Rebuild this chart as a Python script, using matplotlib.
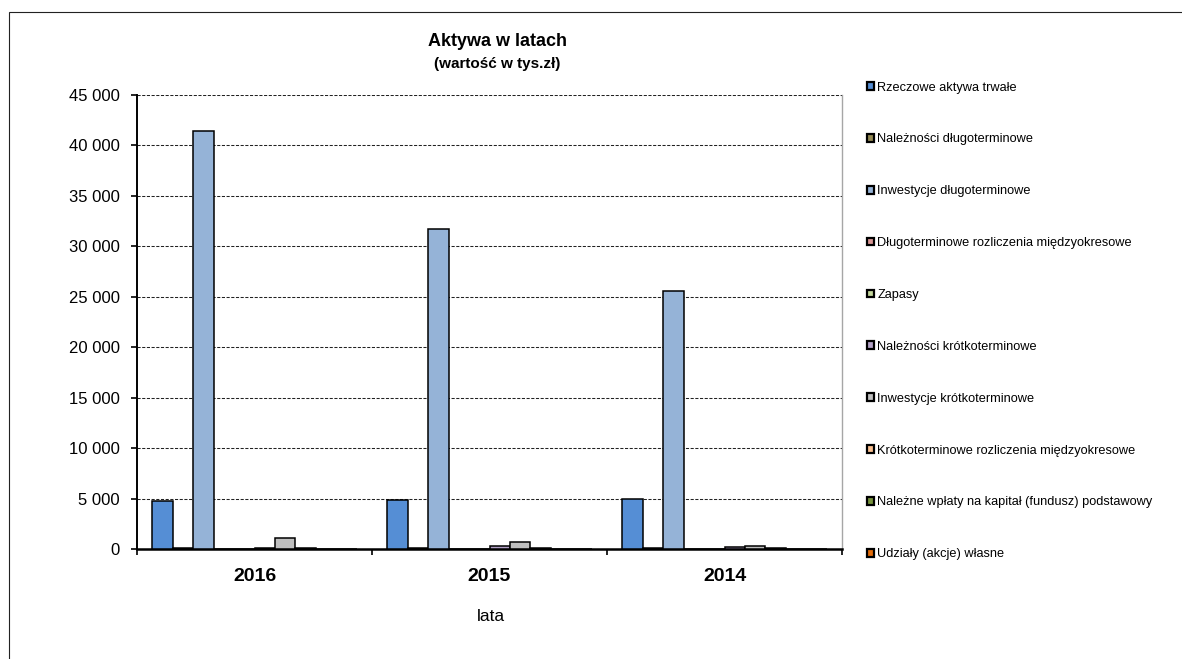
import matplotlib
matplotlib.use('Agg')
import matplotlib.pyplot as plt
from matplotlib.patches import Patch, Rectangle
from matplotlib.ticker import FuncFormatter, MultipleLocator
import numpy as np

plt.rcParams['font.family'] = ['Liberation Sans', 'DejaVu Sans']

# ---------------- data ----------------
years = ['2016', '2015', '2014']
series_names = [
    'Rzeczowe aktywa trwałe',
    'Należności długoterminowe',
    'Inwestycje długoterminowe',
    'Długoterminowe rozliczenia międzyokresowe',
    'Zapasy',
    'Należności krótkoterminowe',
    'Inwestycje krótkoterminowe',
    'Krótkoterminowe rozliczenia międzyokresowe',
    'Należne wpłaty na kapitał (fundusz) podstawowy',
    'Udziały (akcje) własne',
]
rzeczowe_aktywa = [4800, 4900, 5000]
naleznosci_dlugo = [110, 110, 110]
inwestycje_dlugo = [41400, 31700, 25600]
rozliczenia_dlugo = [0, 0, 0]
zapasy = [0, 0, 0]
naleznosci_krotko = [110, 300, 150]
inwestycje_krotko = [1120, 700, 300]
rozliczenia_krotko = [100, 100, 100]
nalezne_wplaty = [0, 0, 0]
udzialy_wlasne = [0, 0, 0]
series_values = [rzeczowe_aktywa, naleznosci_dlugo, inwestycje_dlugo, rozliczenia_dlugo,
                 zapasy, naleznosci_krotko, inwestycje_krotko, rozliczenia_krotko,
                 nalezne_wplaty, udzialy_wlasne]
series_colors = ['#558ED5', '#948A54', '#95B3D7', '#D99694', '#C3D69B',
                 '#B3A2C7', '#BFBFBF', '#FAC090', '#77933C', '#E46C0A']
y_max = 45000
y_step = 5000

# ---------------- figure ----------------
W, H = 1182, 659
fig = plt.figure(figsize=(W / 100, H / 100), dpi=100)
fig.patch.set_facecolor('white')

# outer chart border (cut off on right / bottom)
fig.add_artist(Rectangle((9 / W, -0.2), 1.5, (1 - 12 / H) + 0.2, transform=fig.transFigure,
                         fill=False, edgecolor='#222222', lw=0.8))

L, R, T, B = 137, 842, 95, 549
ax = fig.add_axes([L / W, 1 - B / H, (R - L) / W, (B - T) / H])

n = len(series_names)
w = 1.0 / (n + 1.5)
x = np.arange(len(years))
for i, (vals, col) in enumerate(zip(series_values, series_colors)):
    ax.bar(x + (i - (n - 1) / 2) * w, vals, w, color=col, edgecolor='black',
           linewidth=1.1, zorder=3)

ax.set_xlim(-0.5, len(years) - 0.5)
ax.set_ylim(0, y_max)
ax.yaxis.set_major_locator(MultipleLocator(y_step))
ax.yaxis.set_major_formatter(FuncFormatter(lambda v, p: f'{int(v):,}'.replace(',', ' ')))
ax.yaxis.grid(True, linestyle=(0, (3, 1.5)), color='#222222', linewidth=0.75)
ax.set_axisbelow(True)

ax.set_xticks(np.arange(len(years) + 1) - 0.5)
ax.set_xticklabels([])
ax.set_xticks(x, minor=True)
ax.set_xticklabels(years, minor=True, fontsize=14, fontweight='bold')
ax.tick_params(axis='x', which='major', direction='out', length=4, width=1.2, color='black')
ax.tick_params(axis='x', which='minor', length=0, pad=13.5)
ax.tick_params(axis='y', direction='out', length=4, width=1.2, pad=8.4, labelsize=12)

ax.spines['top'].set_visible(False)
ax.spines['left'].set_linewidth(1.4)
ax.spines['bottom'].set_linewidth(1.8)
ax.spines['right'].set_color('#A6A6A6')
ax.spines['right'].set_linewidth(1.0)

# titles and axis label
fig.text(497 / W, 1 - 46 / H, 'Aktywa w latach', ha='center', va='baseline',
         fontsize=13, fontweight='bold')
fig.text(497 / W, 1 - 68 / H, '(wartość w tys.zł)', ha='center', va='baseline',
         fontsize=11, fontweight='bold')
fig.text(491 / W, 1 - 621 / H, 'lata', ha='center', va='baseline', fontsize=12.5)

# legend
handles = [Patch(facecolor=c, edgecolor='black', linewidth=1.6) for c in series_colors]
fs = 9.2
leg = fig.legend(handles, series_names, loc='upper left',
                 bbox_to_anchor=(867 / W, 1 - 81.5 / H), bbox_transform=fig.transFigure,
                 frameon=False, borderpad=0, borderaxespad=0,
                 handlelength=0.55, handleheight=0.55, handletextpad=0.25,
                 labelspacing=3.12,
                 prop={'family': ['Liberation Sans Narrow', 'Liberation Sans', 'DejaVu Sans'],
                       'size': fs})

fig.savefig('out.png', dpi=100)
